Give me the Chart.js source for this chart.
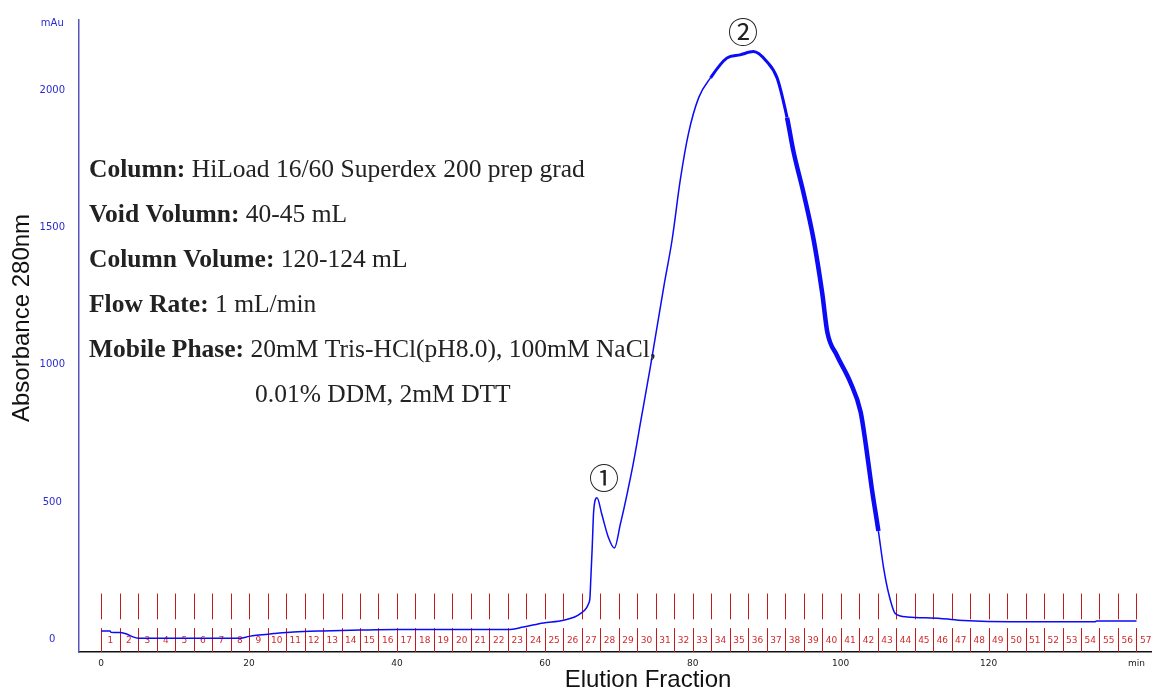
<!DOCTYPE html>
<html>
<head>
<meta charset="utf-8">
<script src="https://cdn.jsdelivr.net/npm/chart.js@4.4.1/dist/chart.umd.min.js"></script>
<style>
  html, body { margin: 0; padding: 0; background: #fff; }
  #wrap { position: relative; width: 1152px; height: 694px; }
</style>
</head>
<body>
<div id="wrap"><canvas id="sec-chart"></canvas></div>
<script>
// elution volume (mL) and A280 (mAU)
const elutionVolume = [0, 1.2, 1.3, 2.6, 3.5, 4.3, 5.0, 10, 15, 18.8, 20.0, 21, 23.3, 26, 30, 35, 40,
  45, 50, 55, 57.1, 59.8, 62.5, 64.8, 65.9, 66.1, 66.2, 66.4, 66.6, 67.05, 67.7, 68.6, 69.4, 70.2,
  71.1, 72.0, 73.0, 74.3, 76.1, 77.2, 78.3, 79.4, 80.8, 82.4, 84.6, 86.4, 88.2, 90.0, 91.4, 92.75,
  93.6, 95.0, 96.35, 97.5, 98.2, 99.5, 101.3, 102.7, 103.4, 104.2, 105.1, 105.8, 106.5, 107.4,
  109.0, 113.5, 116.6, 123, 134.4, 134.6, 140];
const absorbance = [30, 30, 25, 24, 18, 8, 3, 3, 3, 3, 10, 14, 20, 26, 30, 33, 35,
  35, 35, 35, 44, 59, 69, 93, 129, 153, 213, 334, 467, 515, 455, 370, 332, 418,
  527, 647, 800, 998, 1288, 1455, 1672, 1841, 1974, 2046, 2118, 2130, 2142, 2106, 2046, 1901,
  1780, 1624, 1455, 1262, 1118, 1034, 937, 828, 709, 551, 394, 261, 165, 93,
  81, 75, 68, 63, 63, 66, 66];

const xTickValues = [0, 20, 40, 60, 80, 100, 120, 140];
const xTickLabels = ['0', '20', '40', '60', '80', '100', '120', 'min'];
const yTickValues = [0, 500, 1000, 1500, 2000, 2245];
const yTickLabels = ['0', '500', '1000', '1500', '2000', 'mAu'];

// fraction collector marks (start of each 2.5 mL tube)
const fractionEdges = [0, 2.5, 5, 7.5, 10, 12.5, 15, 17.5, 20, 22.5, 25, 27.5, 30, 32.5, 35, 37.5,
  40, 42.5, 45, 47.5, 50, 52.5, 55, 57.5, 60, 62.5, 65, 67.5, 70, 72.5, 75, 77.5, 80, 82.5, 85,
  87.5, 90, 92.5, 95, 97.5, 100, 102.5, 105, 107.5, 110, 112.5, 115, 117.5, 120, 122.5, 125,
  127.5, 130, 132.5, 135, 137.5, 140];
const fractionNumbers = ['1', '2', '3', '4', '5', '6', '7', '8', '9', '10', '11', '12', '13', '14',
  '15', '16', '17', '18', '19', '20', '21', '22', '23', '24', '25', '26', '27', '28', '29', '30',
  '31', '32', '33', '34', '35', '36', '37', '38', '39', '40', '41', '42', '43', '44', '45', '46',
  '47', '48', '49', '50', '51', '52', '53', '54', '55', '56', '57'];

const peakMarks = ['\u2460', '\u2461'];
const peakVolume = [68.0, 86.8];
const peakLevel = [590, 2213];

const infoLabels = ['Column:', 'Void Volumn:', 'Column Volume:', 'Flow Rate:', 'Mobile Phase:', ''];
const infoValues = [' HiLoad 16/60 Superdex 200 prep grad', ' 40-45 mL', ' 120-124 mL', ' 1 mL/min',
  ' 20mM Tris-HCl(pH8.0), 100mM NaCl,', '0.01% DDM, 2mM DTT'];

const fractionPlugin = {
  id: 'fractions',
  beforeDatasetsDraw(chart) {
    const { ctx, scales: { x, y } } = chart;
    ctx.save();
    ctx.strokeStyle = '#c41a1a';
    ctx.lineWidth = 1;
    ctx.beginPath();
    fractionEdges.forEach(v => {
      const px = Math.round(x.getPixelForValue(v)) + 0.5;
      ctx.moveTo(px, y.getPixelForValue(166));
      ctx.lineTo(px, y.getPixelForValue(72));
      ctx.moveTo(px, y.getPixelForValue(40));
      ctx.lineTo(px, y.bottom);
    });
    ctx.stroke();
    ctx.fillStyle = '#d02a2a';
    ctx.font = '9px "DejaVu Sans"';
    ctx.textAlign = 'center';
    ctx.textBaseline = 'middle';
    fractionNumbers.forEach((n, i) => {
      ctx.fillText(n, x.getPixelForValue(fractionEdges[i] + 1.25), y.getPixelForValue(-4));
    });
    ctx.restore();
  }
};

const textPlugin = {
  id: 'texts',
  afterDraw(chart) {
    const { ctx, scales: { x, y } } = chart;
    ctx.save();
    // axis titles
    ctx.fillStyle = '#111';
    ctx.font = '24px "Liberation Sans", Arial';
    ctx.textAlign = 'center';
    ctx.textBaseline = 'middle';
    ctx.fillText('Elution Fraction', 648, 680);
    ctx.save();
    ctx.translate(22, 318);
    ctx.rotate(-Math.PI / 2);
    ctx.fillText('Absorbance 280nm', 0, 0);
    ctx.restore();

    // peak numbers
    ctx.font = '30px "Noto Sans CJK SC", "DejaVu Sans"';
    ctx.fillStyle = '#222';
    peakMarks.forEach((m, i) => {
      ctx.fillText(m, x.getPixelForValue(peakVolume[i]), y.getPixelForValue(peakLevel[i]));
    });

    // run conditions
    ctx.textAlign = 'left';
    ctx.textBaseline = 'alphabetic';
    infoLabels.forEach((lab, i) => {
      const base = 177 + i * 45;
      let left = lab ? 89 : 255;
      if (lab) {
        ctx.font = 'bold 25.5px "Liberation Serif", "Times New Roman"';
        ctx.fillText(lab, left, base);
        left += ctx.measureText(lab).width;
      }
      ctx.font = '25.5px "Liberation Serif", "Times New Roman"';
      ctx.fillText(infoValues[i], left, base);
    });
    ctx.restore();
  }
};

const secCtx = document.getElementById('sec-chart');

new Chart(secCtx, {
  type: 'line',
  data: {
    datasets: [{
      label: 'A280',
      data: elutionVolume.map((v, i) => ({ x: v, y: absorbance[i] })),
      borderColor: '#0b0bf5',
      borderWidth: 1.5,
      pointRadius: 0,
      cubicInterpolationMode: 'monotone',
      fill: false,
      segment: {
        // noisy part of the big peak looks thicker
        borderWidth: c => {
          const xv = c.p0.parsed.x;
          if (xv >= 82 && xv < 92) return 3;
          if (xv >= 92 && xv < 104.5) return 4.5;
          return 1.5;
        }
      }
    }]
  },
  options: {
    responsive: true,
    maintainAspectRatio: false,
    animation: false,
    events: [],
    layout: { padding: { top: 15, right: 0, left: 0, bottom: 0 } },
    plugins: {
      legend: { display: false },
      tooltip: { enabled: false }
    },
    scales: {
      x: {
        type: 'linear',
        min: -3,
        max: 142.1,
        grid: { display: false, drawTicks: false, tickLength: 0 },
        border: { display: true, color: '#111', width: 1.5 },
        afterBuildTicks: s => { s.ticks = xTickValues.map(v => ({ value: v })); },
        afterFit: s => { s.height = 42; },
        ticks: {
          padding: 6,
          color: '#222',
          autoSkip: false,
          maxRotation: 0,
          font: { family: '"DejaVu Sans"', size: 9 },
          callback: (v, i) => xTickLabels[i]
        }
      },
      y: {
        min: -47,
        max: 2257,
        grid: { display: false, drawTicks: false, tickLength: 0 },
        border: { display: true, color: '#5656bb', width: 1.5 },
        afterBuildTicks: s => { s.ticks = yTickValues.map(v => ({ value: v })); },
        afterFit: s => { s.width = 79; },
        ticks: {
          padding: 14,
          crossAlign: 'center',
          color: '#2a2ad0',
          autoSkip: false,
          font: { family: '"DejaVu Sans"', size: 10 },
          callback: (v, i) => yTickLabels[i]
        }
      }
    }
  },
  plugins: [fractionPlugin, textPlugin]
});
</script>
</body>
</html>
